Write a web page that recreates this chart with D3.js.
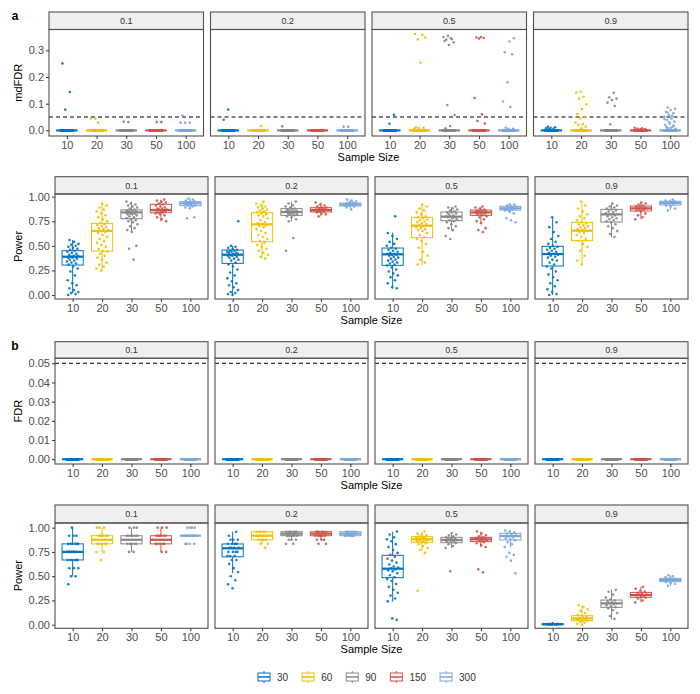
<!DOCTYPE html>
<html><head><meta charset="utf-8">
<script src="https://cdn.jsdelivr.net/npm/d3@7"></script>
<style>body{margin:0;background:#fff} svg{display:block;font-family:"Liberation Sans",Arial,Helvetica,sans-serif}</style>
</head><body><svg id="chart" width="700" height="694"></svg>
<script>
// ---------------- data ----------------
const facets = ["0.1", "0.2", "0.5", "0.9"];
const sampleSizes = ["10", "20", "30", "50", "100"];
const groups = ["30", "60", "90", "150", "300"];
const groupColors = ["#0073C2", "#EFC000", "#868686", "#CD534C", "#7AA6DC"];
const nReplicates = 100;

// (a) mdFDR: replicates that are not zero (others are 0)
const mdfdrNonZero = [
  [[0.251, 0.144, 0.078], [0.044, 0.045, 0.029], [0.031, 0.033], [0.031, 0.031], [0.056, 0.029, 0.029, 0.029]],
  [[0.078, 0.040], [0.016], [0.015], [], [0.014, 0.014]],
  [[0.058, 0.025],
   [0.361, 0.358, 0.341, 0.348, 0.254, 0.012, 0.010, 0.008, 0.006],
   [0.354, 0.350, 0.345, 0.340, 0.330, 0.320, 0.335, 0.342, 0.095, 0.058, 0.016, 0.008],
   [0.350, 0.348, 0.346, 0.344, 0.121, 0.060, 0.035, 0.026],
   [0.345, 0.333, 0.293, 0.285, 0.180, 0.108, 0.088, 0.010, 0.006, 0.006]],
  [[0.014, 0.012, 0.010, 0.008, 0.006, 0.005],
   [0.145, 0.141, 0.126, 0.119, 0.098, 0.080, 0.061, 0.051, 0.045, 0.029, 0.024, 0.020, 0.014, 0.008],
   [0.141, 0.124, 0.119, 0.114, 0.104, 0.091, 0.023],
   [0.010, 0.008, 0.006, 0.005, 0.004],
   [0.086, 0.081, 0.076, 0.070, 0.064, 0.058, 0.051, 0.045, 0.039, 0.033, 0.026, 0.020, 0.014, 0.008, 0.006, 0.010, 0.012, 0.018, 0.030, 0.042, 0.055, 0.067]]
];
const mdfdrThreshold = 0.05;

// (b) FDR: all replicates are zero
const fdrNonZero = [
  [[], [], [], [], []], [[], [], [], [], []], [[], [], [], [], []], [[], [], [], [], []]
];
const fdrThreshold = 0.05;

// (a) Power: box stats [lower whisker, q1, median, q3, upper whisker]
const powerABox = [
  [[0.02, 0.305, 0.39, 0.451, 0.56], [0.25, 0.447, 0.651, 0.729, 0.93], [0.64, 0.776, 0.84, 0.866, 0.95], [0.75, 0.837, 0.864, 0.922, 0.97], [0.88, 0.908, 0.932, 0.949, 0.98]],
  [[0.0, 0.322, 0.41, 0.458, 0.50], [0.373, 0.542, 0.719, 0.837, 0.949], [0.746, 0.81, 0.844, 0.878, 0.95], [0.80, 0.844, 0.864, 0.888, 0.94], [0.87, 0.905, 0.92, 0.935, 0.97]],
  [[0.068, 0.302, 0.414, 0.478, 0.634], [0.305, 0.583, 0.705, 0.79, 0.922], [0.661, 0.756, 0.797, 0.844, 0.898], [0.729, 0.81, 0.84, 0.864, 0.898], [0.83, 0.864, 0.881, 0.902, 0.925]],
  [[0.0, 0.295, 0.417, 0.495, 0.786], [0.312, 0.553, 0.654, 0.739, 0.949], [0.586, 0.742, 0.82, 0.871, 0.932], [0.77, 0.854, 0.881, 0.905, 0.939], [0.864, 0.915, 0.936, 0.953, 0.973]]
];
const powerAPts = [
  [
    [0.00, 0.01, 0.02, 0.03, 0.05, 0.07, 0.10, 0.12, 0.15, 0.20, 0.24, 0.27, 0.29, 0.31, 0.32, 0.33, 0.34, 0.35, 0.36, 0.37, 0.38, 0.38, 0.39, 0.39, 0.40, 0.40, 0.41, 0.42, 0.43, 0.44, 0.45, 0.46, 0.47, 0.48, 0.49, 0.50, 0.51, 0.52, 0.54, 0.56],
    [0.25, 0.27, 0.29, 0.31, 0.33, 0.36, 0.38, 0.40, 0.42, 0.44, 0.45, 0.47, 0.49, 0.51, 0.53, 0.55, 0.57, 0.59, 0.61, 0.63, 0.64, 0.65, 0.66, 0.67, 0.68, 0.69, 0.70, 0.71, 0.72, 0.73, 0.75, 0.77, 0.79, 0.81, 0.83, 0.85, 0.87, 0.89, 0.91, 0.93],
    [0.36, 0.47, 0.50, 0.64, 0.66, 0.68, 0.70, 0.72, 0.74, 0.75, 0.76, 0.77, 0.78, 0.79, 0.80, 0.81, 0.82, 0.82, 0.83, 0.83, 0.84, 0.84, 0.85, 0.85, 0.86, 0.86, 0.87, 0.88, 0.89, 0.90, 0.91, 0.92, 0.93, 0.95],
    [0.75, 0.77, 0.79, 0.81, 0.82, 0.83, 0.84, 0.84, 0.85, 0.85, 0.86, 0.86, 0.87, 0.87, 0.88, 0.88, 0.89, 0.90, 0.91, 0.92, 0.93, 0.94, 0.95, 0.96, 0.97],
    [0.78, 0.79, 0.88, 0.89, 0.90, 0.91, 0.91, 0.92, 0.92, 0.93, 0.93, 0.93, 0.94, 0.94, 0.95, 0.95, 0.96, 0.97, 0.98]
  ],
  [
    [0.00, 0.01, 0.02, 0.03, 0.05, 0.08, 0.10, 0.12, 0.14, 0.17, 0.20, 0.23, 0.26, 0.29, 0.31, 0.33, 0.35, 0.36, 0.37, 0.38, 0.39, 0.40, 0.40, 0.41, 0.41, 0.42, 0.42, 0.43, 0.43, 0.44, 0.44, 0.45, 0.45, 0.46, 0.47, 0.48, 0.49, 0.50, 0.75],
    [0.37, 0.39, 0.41, 0.43, 0.45, 0.47, 0.49, 0.51, 0.53, 0.55, 0.57, 0.59, 0.61, 0.63, 0.65, 0.67, 0.69, 0.70, 0.71, 0.72, 0.73, 0.74, 0.76, 0.78, 0.80, 0.81, 0.82, 0.83, 0.84, 0.85, 0.86, 0.87, 0.88, 0.89, 0.90, 0.91, 0.93, 0.95],
    [0.45, 0.58, 0.75, 0.77, 0.79, 0.80, 0.81, 0.82, 0.82, 0.83, 0.83, 0.84, 0.84, 0.85, 0.85, 0.86, 0.86, 0.87, 0.87, 0.88, 0.89, 0.90, 0.91, 0.93, 0.95],
    [0.80, 0.82, 0.83, 0.84, 0.85, 0.85, 0.86, 0.86, 0.86, 0.87, 0.87, 0.87, 0.88, 0.88, 0.89, 0.89, 0.90, 0.91, 0.92, 0.94],
    [0.87, 0.89, 0.90, 0.91, 0.91, 0.92, 0.92, 0.92, 0.93, 0.93, 0.94, 0.94, 0.95, 0.96, 0.97]
  ],
  [
    [0.07, 0.08, 0.12, 0.15, 0.18, 0.20, 0.22, 0.24, 0.26, 0.28, 0.30, 0.31, 0.32, 0.33, 0.34, 0.35, 0.36, 0.37, 0.38, 0.39, 0.40, 0.41, 0.41, 0.42, 0.42, 0.43, 0.44, 0.45, 0.46, 0.47, 0.48, 0.50, 0.52, 0.54, 0.57, 0.60, 0.63, 0.80],
    [0.31, 0.33, 0.36, 0.40, 0.44, 0.48, 0.52, 0.55, 0.57, 0.59, 0.61, 0.63, 0.65, 0.66, 0.67, 0.68, 0.69, 0.70, 0.71, 0.72, 0.73, 0.74, 0.75, 0.76, 0.77, 0.78, 0.79, 0.80, 0.82, 0.84, 0.86, 0.88, 0.90, 0.92],
    [0.57, 0.60, 0.66, 0.68, 0.70, 0.72, 0.74, 0.75, 0.76, 0.77, 0.78, 0.79, 0.79, 0.80, 0.80, 0.81, 0.82, 0.83, 0.84, 0.84, 0.85, 0.86, 0.87, 0.88, 0.89, 0.90],
    [0.64, 0.66, 0.68, 0.73, 0.75, 0.77, 0.79, 0.80, 0.81, 0.82, 0.83, 0.83, 0.84, 0.84, 0.85, 0.85, 0.86, 0.86, 0.87, 0.88, 0.89, 0.90],
    [0.74, 0.76, 0.78, 0.83, 0.85, 0.86, 0.87, 0.87, 0.88, 0.88, 0.88, 0.89, 0.89, 0.90, 0.90, 0.91, 0.92, 0.92]
  ],
  [
    [0.00, 0.01, 0.03, 0.06, 0.09, 0.12, 0.15, 0.18, 0.21, 0.24, 0.27, 0.29, 0.31, 0.33, 0.35, 0.36, 0.38, 0.39, 0.40, 0.41, 0.42, 0.43, 0.44, 0.45, 0.46, 0.47, 0.48, 0.49, 0.50, 0.52, 0.54, 0.57, 0.60, 0.64, 0.69, 0.74, 0.79],
    [0.31, 0.35, 0.40, 0.45, 0.49, 0.52, 0.55, 0.57, 0.59, 0.61, 0.63, 0.64, 0.65, 0.66, 0.67, 0.68, 0.69, 0.70, 0.71, 0.72, 0.73, 0.74, 0.76, 0.78, 0.80, 0.82, 0.85, 0.88, 0.91, 0.95],
    [0.59, 0.62, 0.65, 0.68, 0.70, 0.72, 0.74, 0.75, 0.76, 0.77, 0.78, 0.79, 0.80, 0.81, 0.82, 0.83, 0.84, 0.85, 0.86, 0.87, 0.88, 0.89, 0.90, 0.91, 0.93],
    [0.77, 0.79, 0.81, 0.83, 0.85, 0.86, 0.87, 0.87, 0.88, 0.88, 0.89, 0.89, 0.90, 0.90, 0.91, 0.92, 0.93, 0.94],
    [0.86, 0.88, 0.90, 0.91, 0.92, 0.93, 0.93, 0.94, 0.94, 0.95, 0.95, 0.96, 0.97]
  ]
];

// (b) Power
const powerBBox = [
  [[0.5, 0.667, 0.75, 0.833, 1.0], [0.75, 0.833, 0.875, 0.917, 1.0], [0.75, 0.833, 0.875, 0.917, 1.0], [0.75, 0.833, 0.875, 0.917, 1.0], [0.917, 0.917, 0.917, 0.917, 0.917]],
  [[0.53, 0.70, 0.787, 0.832, 0.959], [0.833, 0.875, 0.917, 0.958, 0.958], [0.875, 0.917, 0.938, 0.958, 0.958], [0.875, 0.917, 0.938, 0.958, 0.958], [0.917, 0.917, 0.938, 0.958, 0.958]],
  [[0.237, 0.485, 0.577, 0.715, 0.959], [0.77, 0.849, 0.88, 0.907, 0.955], [0.79, 0.845, 0.873, 0.90, 0.945], [0.80, 0.856, 0.88, 0.90, 0.96], [0.80, 0.873, 0.914, 0.942, 0.97]],
  [[0.0, 0.0, 0.005, 0.01, 0.015], [0.0, 0.041, 0.065, 0.093, 0.2], [0.055, 0.179, 0.22, 0.254, 0.364], [0.23, 0.282, 0.306, 0.333, 0.39], [0.40, 0.443, 0.46, 0.478, 0.51]]
];
const powerBPts = [
  [
    [0.417, 0.5, 0.5, 0.583, 0.583, 0.583, 0.667, 0.667, 0.667, 0.667, 0.667, 0.667, 0.75, 0.75, 0.75, 0.75, 0.75, 0.75, 0.75, 0.833, 0.833, 0.833, 0.833, 0.833, 0.833, 0.917, 0.917, 0.917, 1.0],
    [0.667, 0.75, 0.75, 0.833, 0.833, 0.833, 0.833, 0.833, 0.917, 0.917, 0.917, 0.917, 0.917, 0.917, 1.0, 1.0, 1.0],
    [0.75, 0.75, 0.833, 0.833, 0.833, 0.833, 0.833, 0.917, 0.917, 0.917, 0.917, 0.917, 0.917, 1.0, 1.0, 1.0],
    [0.75, 0.75, 0.833, 0.833, 0.833, 0.833, 0.833, 0.917, 0.917, 0.917, 0.917, 0.917, 0.917, 1.0, 1.0, 1.0],
    [0.833, 0.833, 0.833, 0.833, 0.917, 0.917, 0.917, 0.917, 0.917, 0.917, 0.917, 0.917, 1.0, 1.0, 1.0, 1.0]
  ],
  [
    [0.375, 0.417, 0.458, 0.5, 0.542, 0.583, 0.625, 0.667, 0.667, 0.708, 0.708, 0.708, 0.75, 0.75, 0.75, 0.75, 0.792, 0.792, 0.792, 0.792, 0.833, 0.833, 0.833, 0.833, 0.875, 0.875, 0.875, 0.917, 0.958],
    [0.792, 0.833, 0.833, 0.875, 0.875, 0.875, 0.875, 0.917, 0.917, 0.917, 0.917, 0.917, 0.917, 0.958, 0.958, 0.958, 0.958, 0.958],
    [0.833, 0.833, 0.875, 0.875, 0.875, 0.917, 0.917, 0.917, 0.917, 0.917, 0.917, 0.958, 0.958, 0.958, 0.958, 0.958, 0.958],
    [0.833, 0.833, 0.875, 0.875, 0.875, 0.917, 0.917, 0.917, 0.917, 0.917, 0.917, 0.958, 0.958, 0.958, 0.958, 0.958, 0.958],
    [0.917, 0.917, 0.917, 0.917, 0.917, 0.917, 0.938, 0.938, 0.938, 0.958, 0.958, 0.958, 0.958, 0.958, 0.958]
  ],
  [
    [0.05, 0.065, 0.24, 0.27, 0.30, 0.33, 0.36, 0.39, 0.42, 0.45, 0.47, 0.49, 0.51, 0.53, 0.55, 0.56, 0.57, 0.58, 0.59, 0.60, 0.62, 0.64, 0.66, 0.68, 0.70, 0.72, 0.74, 0.77, 0.80, 0.83, 0.86, 0.88, 0.90, 0.93, 0.96],
    [0.35, 0.74, 0.77, 0.79, 0.81, 0.83, 0.84, 0.85, 0.86, 0.86, 0.87, 0.87, 0.88, 0.88, 0.89, 0.89, 0.90, 0.90, 0.91, 0.92, 0.93, 0.94, 0.96],
    [0.55, 0.79, 0.81, 0.83, 0.84, 0.85, 0.86, 0.86, 0.87, 0.87, 0.88, 0.88, 0.89, 0.89, 0.90, 0.91, 0.92, 0.93, 0.945],
    [0.54, 0.57, 0.80, 0.82, 0.84, 0.85, 0.86, 0.87, 0.87, 0.88, 0.88, 0.89, 0.89, 0.90, 0.91, 0.92, 0.94, 0.96],
    [0.53, 0.66, 0.70, 0.72, 0.74, 0.80, 0.83, 0.85, 0.87, 0.88, 0.89, 0.90, 0.91, 0.92, 0.93, 0.94, 0.95, 0.96, 0.97]
  ],
  [
    [0, 0, 0, 0.005, 0.005, 0.01, 0.01, 0.015],
    [0.00, 0.01, 0.02, 0.03, 0.04, 0.04, 0.05, 0.05, 0.06, 0.06, 0.07, 0.07, 0.08, 0.09, 0.10, 0.12, 0.14, 0.16, 0.18, 0.20],
    [0.06, 0.09, 0.12, 0.15, 0.17, 0.18, 0.19, 0.20, 0.21, 0.22, 0.22, 0.23, 0.24, 0.25, 0.26, 0.28, 0.31, 0.34, 0.36],
    [0.23, 0.25, 0.27, 0.28, 0.29, 0.30, 0.30, 0.31, 0.31, 0.32, 0.33, 0.34, 0.35, 0.37, 0.39],
    [0.40, 0.42, 0.43, 0.44, 0.45, 0.45, 0.46, 0.46, 0.47, 0.47, 0.48, 0.49, 0.50, 0.51]
  ]
];

const ticksFDRa = [0, 0.1, 0.2, 0.3];
const ticksPower = [0, 0.25, 0.5, 0.75, 1.0];
const ticksFDRb = [0, 0.01, 0.02, 0.03, 0.04, 0.05];

// ---------------- helpers ----------------
function withZeros(nonZero) {
  return nonZero.map(f => f.map(v => v.concat(new Array(Math.max(0, nReplicates - v.length)).fill(0))));
}
function zeroBoxes() { return facets.map(() => sampleSizes.map(() => [0, 0, 0, 0, 0])); }

const svg = d3.select("#chart");
const RIGHT = 688, GAP = 7;
const rows = [
  { panel: "a", title: "mdFDR", left: 49, stripTop: 12, panelTop: 29.5, panelBottom: 136, domain: [-0.021, 0.378],
    ticks: ticksFDRa, fmt: ".1f", hline: mdfdrThreshold, box: zeroBoxes(), pts: withZeros(mdfdrNonZero) },
  { title: "Power", left: 55, stripTop: 176.7, panelTop: 194, panelBottom: 299, domain: [-0.04, 1.027],
    ticks: ticksPower, fmt: ".2f", hline: null, box: powerABox, pts: powerAPts },
  { panel: "b", title: "FDR", left: 55, stripTop: 341.7, panelTop: 358.3, panelBottom: 464, domain: [-0.0025, 0.0526],
    ticks: ticksFDRb, fmt: ".2f", hline: fdrThreshold, box: zeroBoxes(), pts: withZeros(fdrNonZero) },
  { title: "Power", left: 55, stripTop: 505, panelTop: 523, panelBottom: 628.3, domain: [-0.037, 1.048],
    ticks: ticksPower, fmt: ".2f", hline: null, box: powerBBox, pts: powerBPts }
];

function jitter(i, gi) {
  const f = (i * 0.6180339887 + gi * 0.2718 + 0.13) % 1;
  return f - 0.5;
}

rows.forEach(row => {
  const pw = (RIGHT - row.left - GAP * 3) / 4;
  const y = d3.scaleLinear().domain(row.domain).range([row.panelBottom, row.panelTop]);
  facets.forEach((f, fi) => {
    const x0 = row.left + fi * (pw + GAP), x1 = x0 + pw;
    const x = d3.scalePoint().domain(sampleSizes).range([x0, x1]).padding(0.6);
    const step = x.step();
    const g = svg.append("g");
    // strip
    g.append("rect").attr("x", x0).attr("y", row.stripTop).attr("width", pw)
      .attr("height", row.panelTop - row.stripTop).attr("fill", "#EFEFEF").attr("stroke", "#505050").attr("stroke-width", 1.1);
    g.append("text").attr("x", (x0 + x1) / 2).attr("y", (row.stripTop + row.panelTop) / 2)
      .attr("dy", "0.35em").attr("text-anchor", "middle").attr("font-size", 9).attr("fill", "#333").text(f);
    // threshold line
    if (row.hline !== null) {
      g.append("line").attr("x1", x0).attr("x2", x1).attr("y1", y(row.hline)).attr("y2", y(row.hline))
        .attr("stroke", "#000").attr("stroke-width", 1.1).attr("stroke-dasharray", "4,3");
    }
    // boxes
    sampleSizes.forEach((s, si) => {
      const b = row.box[fi][si];
      const cx = x(s), bw = step * 0.72, col = groupColors[si];
      const bg = g.append("g").attr("stroke", col).attr("fill", "none");
      bg.append("line").attr("x1", cx).attr("x2", cx).attr("y1", y(b[0])).attr("y2", y(b[1])).attr("stroke-width", 1);
      bg.append("line").attr("x1", cx).attr("x2", cx).attr("y1", y(b[3])).attr("y2", y(b[4])).attr("stroke-width", 1);
      bg.append("rect").attr("x", cx - bw / 2).attr("width", bw).attr("y", y(b[3]))
        .attr("height", Math.max(0, y(b[1]) - y(b[3]))).attr("stroke-width", 1);
      bg.append("line").attr("x1", cx - bw / 2).attr("x2", cx + bw / 2).attr("y1", y(b[2])).attr("y2", y(b[2])).attr("stroke-width", 2.2);
    });
    // jittered points
    sampleSizes.forEach((s, si) => {
      const vals = row.pts[fi][si];
      const cx = x(s), jw = step * 0.2 * 2;
      g.append("g").selectAll("circle").data(vals).join("circle")
        .attr("cx", (d, i) => cx + jitter(i, si + fi * 5) * jw)
        .attr("cy", d => y(d)).attr("r", 1.3)
        .attr("fill", groupColors[si]).attr("fill-opacity", 0.9);
    });
    // panel border
    g.append("rect").attr("x", x0).attr("y", row.panelTop).attr("width", pw)
      .attr("height", row.panelBottom - row.panelTop).attr("fill", "none").attr("stroke", "#505050").attr("stroke-width", 1.1);
    // x axis
    const xa = g.append("g").attr("transform", `translate(0,${row.panelBottom})`)
      .call(d3.axisBottom(x).tickSize(3).tickPadding(2));
    xa.select(".domain").remove();
    xa.selectAll(".tick line").attr("stroke", "#333");
    xa.selectAll(".tick text").attr("font-size", 11).attr("fill", "#4D4D4D").attr("font-family", null);
    // y axis
    if (fi === 0) {
      const ya = g.append("g").attr("transform", `translate(${x0},0)`)
        .call(d3.axisLeft(y).tickValues(row.ticks).tickFormat(d3.format(row.fmt)).tickSize(3).tickPadding(2));
      ya.select(".domain").remove();
      ya.selectAll(".tick line").attr("stroke", "#333");
      ya.selectAll(".tick text").attr("font-size", 11).attr("fill", "#4D4D4D").attr("font-family", null);
    }
  });
  // axis titles
  svg.append("text").attr("transform", `translate(18,${(row.panelTop + row.panelBottom) / 2}) rotate(-90)`)
    .attr("text-anchor", "middle").attr("dy", "0.35em").attr("font-size", 11).attr("fill", "#000").text(row.title);
  svg.append("text").attr("x", (row.left + RIGHT) / 2).attr("y", row.panelBottom + 25)
    .attr("text-anchor", "middle").attr("font-size", 11).attr("fill", "#000").text("Sample Size");
  if (row.panel) {
    svg.append("text").attr("x", 15).attr("y", row.stripTop + 8).attr("text-anchor", "middle")
      .attr("font-size", 12).attr("font-weight", "bold").attr("fill", "#000").text(row.panel);
  }
});

// legend
const legendY = 677;
let lx = 264;
groups.forEach((gname, i) => {
  const col = groupColors[i];
  const lg = svg.append("g").attr("stroke", col).attr("fill", "none");
  lg.append("line").attr("x1", lx).attr("x2", lx).attr("y1", legendY - 6).attr("y2", legendY + 6);
  lg.append("rect").attr("x", lx - 6).attr("y", legendY - 4).attr("width", 12).attr("height", 8).attr("fill", "#fff");
  lg.append("line").attr("x1", lx - 6).attr("x2", lx + 6).attr("y1", legendY).attr("y2", legendY).attr("stroke-width", 1.5);
  const t = svg.append("text").attr("x", lx + 13).attr("y", legendY).attr("dy", "0.35em")
    .attr("font-size", 10).attr("fill", "#333").text(gname);
  const w = t.node().getComputedTextLength();
  lx = lx + 13 + w + 14 + 6;
});
</script></body></html>
